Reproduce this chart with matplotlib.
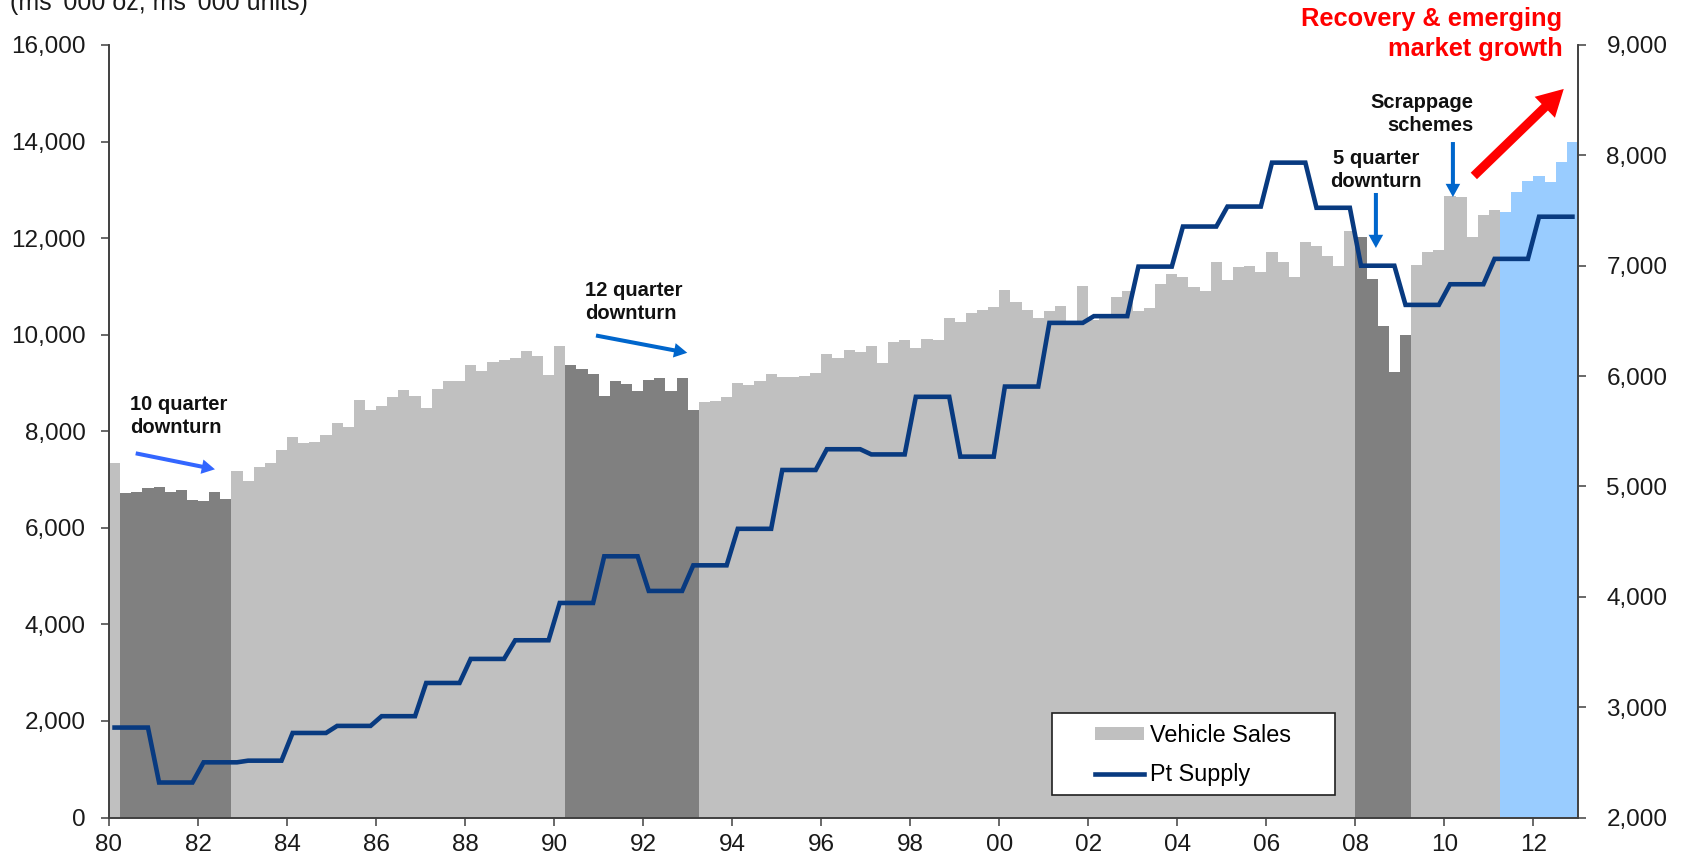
import numpy as np
import matplotlib
matplotlib.use("Agg")
import matplotlib.pyplot as plt
from matplotlib.patches import Patch, Rectangle
from matplotlib.lines import Line2D
from matplotlib.ticker import FuncFormatter, MultipleLocator

plt.rcParams['font.family'] = ['Liberation Sans', 'DejaVu Sans']

# quarterly vehicle sales ('000 units), 1980Q1 .. 2012Q4, one row per year
sales = [
    7344, 6715, 6743, 6818,     # 1980
    6847, 6743, 6784, 6584,     # 1981
    6563, 6743, 6591, 7170,     # 1982
    6963, 7253, 7344, 7619,     # 1983
    7874, 7750, 7771, 7930,     # 1984
    8171, 8081, 8654, 8433,     # 1985
    8530, 8702, 8855, 8731,     # 1986
    8482, 8882, 9033, 9033,     # 1987
    9379, 9241, 9434, 9482,     # 1988
    9517, 9662, 9558, 9158,     # 1989
    9758, 9379, 9289, 9179,     # 1990
    8731, 9041, 8979, 8841,     # 1991
    9054, 9110, 8841, 9110,     # 1992
    8433, 8598, 8634, 8710,     # 1993
    9006, 8958, 9048, 9179,     # 1994
    9116, 9116, 9137, 9207,     # 1995
    9607, 9517, 9689, 9641,     # 1996
    9758, 9413, 9848, 9896,     # 1997
    9717, 9910, 9896, 10345,    # 1998
    10255, 10449, 10518, 10573, # 1999
    10917, 10677, 10518, 10345, # 2000
    10497, 10600, 10250, 11000, # 2001
    10300, 10350, 10773, 10897, # 2002
    10500, 10553, 11057, 11257, # 2003
    11201, 10980, 10897, 11505, # 2004
    11125, 11401, 11429, 11304, # 2005
    11704, 11505, 11186, 11911, # 2006
    11828, 11621, 11429, 12139, # 2007
    12015, 11153, 10172, 9220,  # 2008
    9986, 11435, 11712, 11760,  # 2009
    12864, 12843, 12015, 12484, # 2010
    12588, 12540, 12947, 13188, # 2011
    13292, 13168, 13568, 13996, # 2012
]

# annual platinum supply ('000 oz), 1980 .. 2012
years = list(range(1980, 2013))
pt_supply = [2815, 2317, 2500, 2515, 2766, 2830, 2918, 3219, 3437, 3606,
             3944, 4367, 4053, 4285, 4616, 5149, 5337, 5290, 5812, 5270,
             5905, 6482, 6543, 6992, 7355, 7536, 7934, 7525, 7000, 6645,
             6832, 7062, 7444]

# downturns (first, last quarter) and start of forecast quarters
downturns = [("1980Q2", "1982Q3"), ("1990Q2", "1993Q1"), ("2008Q1", "2009Q1")]
forecast_from = "2011Q2"


def qpos(q):
    y, n = q.split("Q")
    return int(y) + (int(n) - 1) / 4


def sales_to_pt(v):
    # both y axes share the same pixel span
    return v / 16000 * 7000 + 2000


W, H = 1684, 861
fig = plt.figure(figsize=(W / 100, H / 100), dpi=100)
ax = fig.add_axes([109 / W, 1 - 817.5 / H, (1578 - 109) / W, (817.5 - 45) / H])

x = 1980 + np.arange(len(sales)) / 4
colors = []
for xi in x:
    c = "#c0c0c0"
    for a, b in downturns:
        if qpos(a) <= xi <= qpos(b):
            c = "#808080"
    if xi >= qpos(forecast_from):
        c = "#99ccff"
    colors.append(c)

ax.bar(x, sales, width=0.25, align="edge", color=colors, linewidth=0)
ax.set_xlim(1980, 2013)
ax.set_ylim(0, 16000)
ax.yaxis.set_major_locator(MultipleLocator(2000))
ax.yaxis.set_major_formatter(FuncFormatter(lambda v, p: f"{v:,.0f}"))
ax.set_xticks(range(1980, 2013, 2))
ax.set_xticklabels([f"{y % 100:02d}" for y in range(1980, 2013, 2)])

ax2 = ax.twinx()
xq = 1980 + np.arange(len(years) * 4) / 4 + 0.125
ax2.plot(xq, np.repeat(pt_supply, 4), color="#083a80", lw=3.3,
         solid_joinstyle="miter")
ax2.set_ylim(2000, 9000)
ax2.yaxis.set_major_locator(MultipleLocator(1000))
ax2.yaxis.set_major_formatter(FuncFormatter(lambda v, p: f"{v:,.0f}"))

for a in (ax, ax2):
    a.spines["top"].set_visible(False)
    for s in a.spines.values():
        s.set_color("#404040")
        s.set_linewidth(1.2)
    a.tick_params(length=6, width=1.1, color="#404040", labelsize=17.5,
                  labelcolor="#1a1a1a")
ax.tick_params(axis="y", pad=11)
ax.tick_params(axis="x", pad=6)
ax2.tick_params(axis="y", pad=14.5)

fig.text(10 / W, 1 - 10 / H, "(ms '000 oz, ms '000 units)", fontsize=18,
         color="#1a1a1a", va="baseline", ha="left")

# notes and arrows
note = dict(fontsize=14.5, fontweight="bold", color="#111111", va="top",
            linespacing=1.25)
ax2.text(1980.47, sales_to_pt(8751), "10 quarter\ndownturn", ha="left", **note)
ax2.text(1990.70, sales_to_pt(11113), "12 quarter\ndownturn", ha="left", **note)
ax2.text(2008.46, sales_to_pt(13850), "5 quarter\ndownturn",
         ha="center", multialignment="center", **note)
ax2.text(2010.65, sales_to_pt(15000), "Scrappage\nschemes",
         ha="right", multialignment="right", **note)
ax2.text(2012.65, sales_to_pt(16777), "Recovery & emerging\nmarket growth",
         ha="right", multialignment="right", va="top", fontsize=18.3,
         fontweight="bold", color="#ff0000", linespacing=1.3)


def arrow(tail, tip, color, w=2.9, hw=10.5, hl=9.5):
    ax.annotate("", xy=tip, xytext=tail, xycoords="data", textcoords="data",
                annotation_clip=False,
                arrowprops=dict(facecolor=color, edgecolor="none", width=w,
                                headwidth=hw, headlength=hl, shrink=0))


arrow((1980.60, 7543), (1982.38, 7212), "#3366ff")
arrow((1990.94, 9983), (1992.99, 9625), "#0066cc")
arrow((2008.46, 12935), (2008.46, 11796), "#0066cc")
arrow((2010.19, 13990), (2010.19, 12851), "#0066cc")
arrow((2010.66, 13288), (2012.68, 15090), "#ff0000", w=6.5, hw=21, hl=19)

# legend: white box with the two entries inside
ax2.add_patch(Rectangle((1052 / W, 1 - 795 / H), 283 / W, 82 / H,
                        transform=fig.transFigure, facecolor="white",
                        edgecolor="#202020", linewidth=1.2, zorder=4,
                        clip_on=False))
handles = [Patch(facecolor="#c0c0c0", edgecolor="none"),
           Line2D([], [], color="#083a80", lw=3.3)]
leg = ax2.legend(handles, ["Vehicle Sales", "Pt Supply"], loc="upper left",
                 bbox_to_anchor=(1095 / W, 1 - 724 / H),
                 bbox_transform=fig.transFigure, fontsize=16.8, frameon=False,
                 borderaxespad=0, borderpad=0, handlelength=2.1,
                 handleheight=0.5, handletextpad=0.25, labelspacing=0.7)
leg.set_zorder(5)

fig.savefig("out.png", dpi=100)
